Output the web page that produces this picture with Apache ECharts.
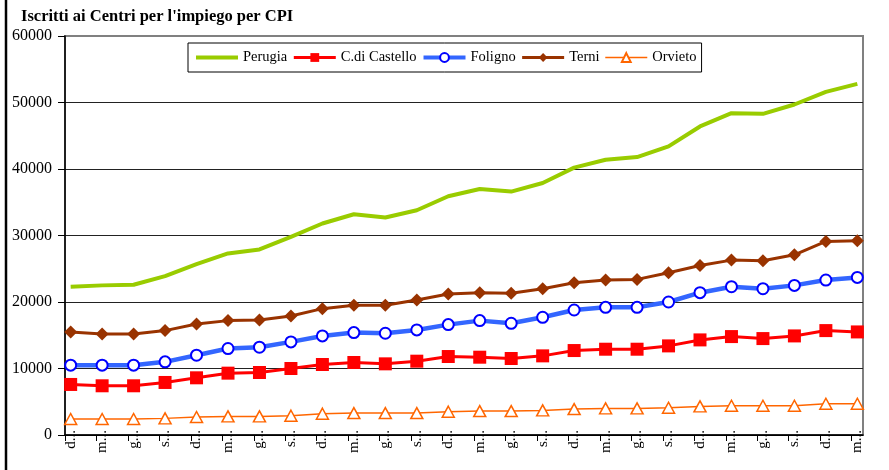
<!DOCTYPE html>
<html>
<head>
<meta charset="utf-8">
<script src="https://cdn.jsdelivr.net/npm/echarts@6/dist/echarts.min.js"></script>
<style>
  html, body { margin: 0; padding: 0; background: #fff; }
  #chart { width: 889px; height: 470px; }
</style>
</head>
<body>
<div id="chart"></div>
<script>
// Quarterly period labels (dicembre, marzo, giugno, settembre)
const periodLabels = [
  'd...', 'm...', 'g...', 's...', 'd...', 'm...', 'g...', 's...',
  'd...', 'm...', 'g...', 's...', 'd...', 'm...', 'g...', 's...',
  'd...', 'm...', 'g...', 's...', 'd...', 'm...', 'g...', 's...',
  'd...', 'm...'
];

// Registered job seekers per employment centre
const perugia = [22300, 22500, 22600, 23900, 25700, 27300, 27900, 29800, 31800, 33200, 32700, 33800, 35900,
                 37000, 36600, 37900, 40200, 41400, 41800, 43400, 46400, 48400, 48300, 49700, 51600, 52800];
const castello = [7600, 7400, 7400, 7900, 8600, 9300, 9400, 10000, 10600, 10900, 10700, 11100, 11800,
                  11700, 11500, 11900, 12700, 12900, 12900, 13400, 14300, 14800, 14500, 14900, 15700, 15500];
const foligno = [10500, 10500, 10500, 11000, 12000, 13000, 13200, 14000, 14900, 15400, 15300, 15800, 16600,
                 17200, 16800, 17700, 18800, 19200, 19200, 20000, 21400, 22300, 22000, 22500, 23300, 23700];
const terni = [15500, 15200, 15200, 15700, 16700, 17200, 17300, 17900, 19000, 19500, 19500, 20300, 21200,
               21400, 21300, 22000, 22900, 23300, 23400, 24400, 25500, 26300, 26200, 27100, 29100, 29200];
const orvieto = [2400, 2400, 2400, 2500, 2700, 2800, 2800, 2900, 3200, 3300, 3300, 3300, 3500,
                 3600, 3600, 3700, 3900, 4000, 4000, 4100, 4300, 4400, 4400, 4400, 4700, 4700];

// y-axis tick values
const yTicks = [0, 10000, 20000, 30000, 40000, 50000, 60000];

const font = 'Liberation Serif';
const xMin = -0.18;
const xMax = periodLabels.length - 1 + 0.18;
const toPairs = arr => arr.map((v, i) => [i, v]);

const chart = echarts.init(document.getElementById('chart'), null, { renderer: 'canvas' });

chart.setOption({
  animation: false,
  backgroundColor: '#fff',
  title: {
    text: "Iscritti ai Centri per l'impiego per CPI",
    left: 21,
    top: 8,
    padding: 0,
    textStyle: { fontFamily: font, fontSize: 16.5, fontWeight: 'bold', color: '#000' }
  },
  graphic: [{
    type: 'line',
    shape: { x1: 6, y1: 0, x2: 6, y2: 470 },
    style: { stroke: '#000', lineWidth: 2.5 },
    silent: true
  }],
  legend: {
    left: 188,
    top: 43,
    padding: [7, 5, 7, 6],
    itemGap: 5,
    itemWidth: 42,
    itemHeight: 11,
    borderColor: '#000',
    borderWidth: 1,
    borderRadius: 0,
    backgroundColor: '#fff',
    textStyle: { fontFamily: font, fontSize: 14.5, color: '#000' },
    data: [
      { name: 'Perugia', itemStyle: { opacity: 0 }, lineStyle: { width: 4 } },
      { name: 'C.di Castello', lineStyle: { width: 3 } },
      { name: 'Foligno', lineStyle: { width: 4 } },
      { name: 'Terni', lineStyle: { width: 3 } },
      { name: 'Orvieto', lineStyle: { width: 1.5 } }
    ]
  },
  grid: {
    left: 65,
    right: 26,
    top: 36,
    bottom: 35,
    show: true,
    borderColor: '#808080',
    borderWidth: 2,
    backgroundColor: 'transparent'
  },
  xAxis: {
    type: 'value',
    min: xMin,
    max: xMax,
    axisLine: { show: true, onZero: false, lineStyle: { color: '#000', width: 1.5 } },
    axisTick: {
      show: true,
      length: 6,
      customValues: periodLabels.map((_, i) => i + xMin),
      lineStyle: { color: '#000', width: 1 }
    },
    axisLabel: {
      customValues: periodLabels.map((_, i) => i),
      formatter: v => periodLabels[Math.round(v)],
      rotate: 90,
      margin: -5,
      fontFamily: font,
      fontSize: 15,
      color: '#000',
      showMinLabel: true,
      showMaxLabel: true,
      hideOverlap: false
    },
    splitLine: { show: false }
  },
  yAxis: {
    type: 'value',
    min: yTicks[0],
    max: yTicks[yTicks.length - 1],
    interval: yTicks[1] - yTicks[0],
    axisLine: { show: true, onZero: false, lineStyle: { color: '#000', width: 1.5 } },
    axisTick: { show: true, length: 7, lineStyle: { color: '#000', width: 1 } },
    axisLabel: { fontFamily: font, fontSize: 16, color: '#000', margin: 13, formatter: v => String(v) },
    splitLine: {
      show: true,
      lineStyle: { color: ['#000', '#222', '#222', '#222', '#222', '#222', '#808080'], width: 1 }
    }
  },
  series: [
    {
      name: 'Perugia',
      type: 'line',
      data: toPairs(perugia),
      symbol: 'none',
      lineStyle: { color: '#99CC00', width: 4 },
      itemStyle: { color: '#99CC00' }
    },
    {
      name: 'C.di Castello',
      type: 'line',
      data: toPairs(castello),
      symbol: 'rect',
      symbolSize: 13,
      lineStyle: { color: '#FF0000', width: 3 },
      itemStyle: { color: '#FF0000' }
    },
    {
      name: 'Foligno',
      type: 'line',
      data: toPairs(foligno),
      symbol: 'circle',
      symbolSize: 11,
      lineStyle: { color: '#3366FF', width: 4.5 },
      itemStyle: { color: '#FFFFFF', borderColor: '#0000FF', borderWidth: 2 }
    },
    {
      name: 'Terni',
      type: 'line',
      data: toPairs(terni),
      symbol: 'diamond',
      symbolSize: 13,
      lineStyle: { color: '#993300', width: 3 },
      itemStyle: { color: '#993300' }
    },
    {
      name: 'Orvieto',
      type: 'line',
      data: toPairs(orvieto),
      symbol: 'triangle',
      symbolSize: [12, 11],
      lineStyle: { color: '#FF6600', width: 1.5 },
      itemStyle: { color: '#FFFFFF', borderColor: '#FF6600', borderWidth: 1.5 }
    }
  ]
});
</script>
</body>
</html>
